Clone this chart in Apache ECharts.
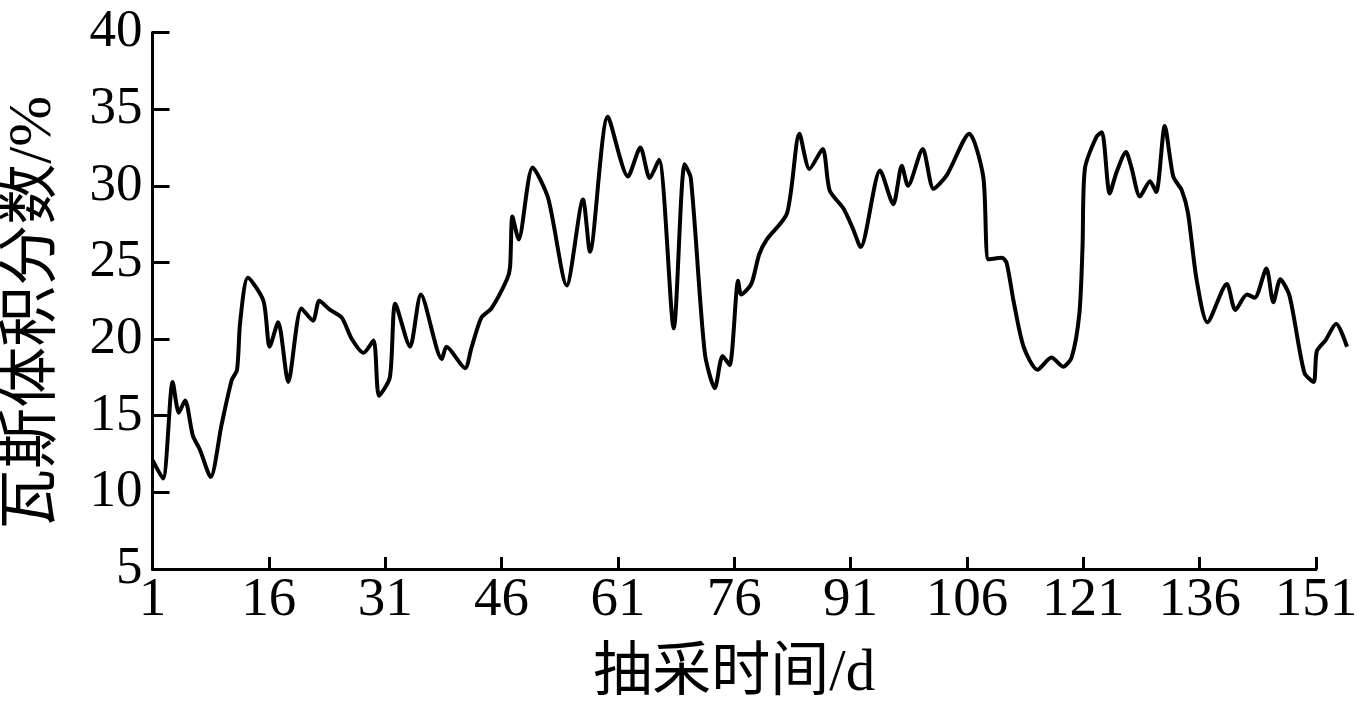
<!DOCTYPE html>
<html>
<head>
<meta charset="utf-8">
<script src="https://cdn.jsdelivr.net/npm/echarts@6/dist/echarts.min.js"></script>
<style>
html,body{margin:0;padding:0;background:#fff;}
#chart{width:1360px;height:712px;}
</style>
</head>
<body>
<div id="chart"></div>
<script>
// Sampling day (抽采时间/d) and gas volume fraction (瓦斯体积分数/%)
var days = [1, 2.35, 3.6, 4.4, 5.2, 6.2, 7.1, 8.5, 9.9, 11.2, 11.9, 12.3, 13.3, 15.3, 16.1, 17.2, 18.5,
  20.2, 21.7, 22.5, 23.9, 25.4, 26.7, 28.2, 29.5, 30.2, 31.6, 32.3, 34.2, 35.6, 38.3, 38.9, 41.3, 42.1,
  43.4, 44.7, 46.7, 47.1, 47.4, 48.2, 50.0, 52.0, 54.4, 56.5, 57.4, 59.7, 62.3, 63.9, 65.1, 66.3, 68.2,
  69.6, 70.4, 72.2, 73.5, 74.5, 75.4, 76.5, 76.9, 78.2, 79.2, 80.2, 82.8, 84.4, 85.7, 87.4, 88.3, 90.1,
  91.3, 92.3, 94.8, 96.5, 97.6, 98.4, 100.3, 101.7, 103.4, 106.3, 108.1, 108.8, 110.5, 111.1, 112.0,
  113.3, 115.1, 116.9, 118.4, 119.5, 120.5, 120.9, 121.2, 122.7, 123.4, 124.4, 125.3, 126.5, 127.2,
  128.3, 129.6, 130.4, 131.5, 132.6, 133.7, 134.5, 135.6, 137.0, 139.5, 140.6, 142.1, 143.1, 144.6,
  145.5, 146.4, 147.6, 149.5, 150.7, 151.1, 152.2, 153.6, 155.0];
var gas = [12.1, 10.9, 17.2, 15.2, 16.0, 13.7, 12.8, 11.0, 14.4, 17.3, 18.0, 21.1, 24.0, 22.5, 19.5, 21.1, 17.2,
  22.0, 21.2, 22.5, 21.9, 21.4, 20.0, 19.1, 19.9, 16.3, 17.5, 22.3, 19.5, 22.9, 18.7, 19.5, 18.1, 19.4,
  21.4, 22.0, 23.9, 24.7, 28.0, 26.5, 31.2, 29.2, 23.5, 29.1, 25.7, 34.5, 30.6, 32.5, 30.5, 31.7, 20.7,
  31.4, 30.5, 19.1, 16.8, 18.9, 18.3, 23.8, 22.9, 23.6, 25.5, 26.5, 28.2, 33.4, 31.1, 32.4, 29.7, 28.5,
  27.2, 26.0, 31.0, 28.8, 31.3, 30.0, 32.4, 29.8, 30.7, 33.4, 30.6, 25.2, 25.3, 25.0, 22.5,
  19.5, 18.0, 18.8, 18.2, 18.8, 21.7, 26.0, 31.1, 33.2, 33.5, 29.5, 30.9, 32.2, 31.2,
  29.3, 30.3, 29.6, 33.9, 30.6, 29.7, 28.2, 23.9, 21.1, 23.6, 21.9, 22.9, 22.7, 24.6,
  22.4, 23.9, 22.8, 17.8, 17.2, 19.2, 19.9, 21.0, 19.5];
var xTicks = {min: 1, max: 151, interval: 15};
var yTicks = {min: 5, max: 40, interval: 5};
var dataMaxDay = 155;
var xName = '抽采时间/d';
var yName = '瓦斯体积分数/%';

var pts = days.map(function (d, i) { return [d, gas[i]]; });
var serif = '"Liberation Serif", "Times New Roman", "Noto Sans CJK SC", serif';
var cjk = '"Liberation Serif", "Noto Sans CJK SC", serif';

// grid 0 carries the visible axes (to day 151); grid 1 has the same scale per day but runs to day 155
var gLeft = 152.5, gTop = 32.5, gBottom = 143;
var gRight0 = 44;
var pxPerDay = (1360 - gLeft - gRight0) / (xTicks.max - xTicks.min);
var gRight1 = 1360 - gLeft - pxPerDay * (dataMaxDay - xTicks.min);

var chart = echarts.init(document.getElementById('chart'), null, {renderer: 'canvas'});
chart.setOption({
  backgroundColor: '#fff',
  animation: false,
  grid: [
    {left: gLeft, right: gRight0, top: gTop, bottom: gBottom, containLabel: false, outerBoundsMode: 'none'},
    {left: gLeft, right: gRight1, top: gTop, bottom: gBottom, containLabel: false, outerBoundsMode: 'none'}
  ],
  xAxis: [{
    gridIndex: 0, type: 'value', min: xTicks.min, max: xTicks.max, interval: xTicks.interval,
    name: xName, nameLocation: 'middle', nameGap: 76,
    nameTextStyle: {fontFamily: cjk, fontSize: 59, color: '#000'},
    axisLine: {show: true, onZero: false, lineStyle: {color: '#000', width: 3}},
    axisTick: {show: true, inside: true, length: 12, lineStyle: {color: '#000', width: 3}},
    axisLabel: {fontFamily: serif, fontSize: 55, color: '#000', margin: 4},
    splitLine: {show: false}
  }, {
    gridIndex: 1, type: 'value', min: xTicks.min, max: dataMaxDay,
    axisLine: {show: false}, axisTick: {show: false}, axisLabel: {show: false},
    splitLine: {show: false}
  }],
  yAxis: [{
    gridIndex: 0, type: 'value', min: yTicks.min, max: yTicks.max, interval: yTicks.interval,
    name: yName, nameLocation: 'middle', nameGap: 88,
    nameTextStyle: {fontFamily: cjk, fontSize: 61, color: '#000', padding: [0, 24, 0, 0]},
    axisLine: {show: true, lineStyle: {color: '#000', width: 3}},
    axisTick: {show: true, inside: true, length: 17, lineStyle: {color: '#000', width: 3}},
    axisLabel: {fontFamily: serif, fontSize: 53, color: '#000', margin: 10},
    splitLine: {show: false}
  }, {
    gridIndex: 1, type: 'value', min: yTicks.min, max: yTicks.max, interval: yTicks.interval,
    axisLine: {show: false}, axisTick: {show: false}, axisLabel: {show: false},
    splitLine: {show: false}
  }],
  series: [{
    type: 'line',
    xAxisIndex: 1, yAxisIndex: 1,
    data: pts,
    smooth: 0.25,
    showSymbol: false,
    symbol: 'none',
    lineStyle: {color: '#000', width: 4}
  }]
});
</script>
</body>
</html>
